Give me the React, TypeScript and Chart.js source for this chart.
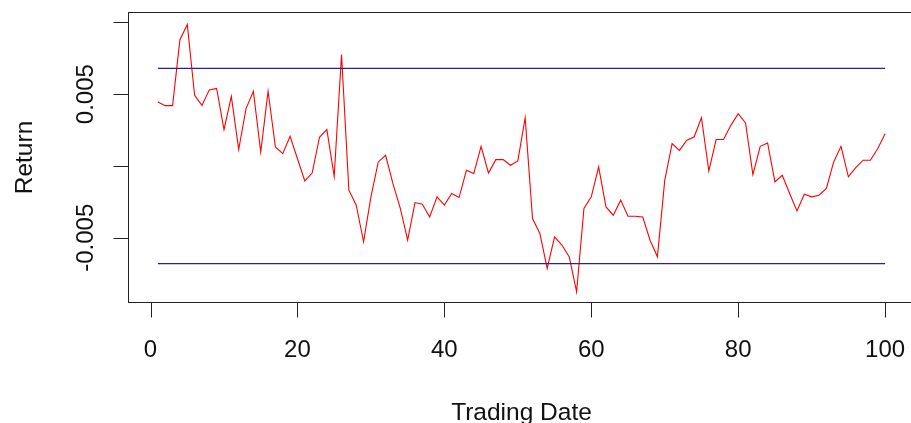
import React, { useEffect, useRef } from "react";
import { Chart, registerables } from "chart.js";

Chart.register(...registerables);

// Trading dates 1..100
const tradingDates: number[] = Array.from({ length: 100 }, (_, i) => i + 1);

// Daily returns
const returns: number[] = [
  0.00445, 0.0042, 0.0042, 0.00879, 0.00985, 0.00492, 0.00422, 0.0053, 0.0054, 0.00253,
  0.00485, 0.00114, 0.004, 0.0052, 0.00097, 0.0052, 0.00132, 0.00086, 0.00207, 0.0005,
  -0.00104, -0.00049, 0.002, 0.00255, -0.00072, 0.00777, -0.00169, -0.00273, -0.00528, -0.00215,
  0.00028, 0.00074, -0.00123, -0.00296, -0.00517, -0.00255, -0.00266, -0.00355, -0.00215, -0.00273,
  -0.00192, -0.0022, -0.0003, -0.00053, 0.00137, -0.00049, 0.00044, 0.00044, 0.00005, 0.00035,
  0.00336, -0.00366, -0.0047, -0.00714, -0.00494, -0.00551, -0.00633, -0.00876, -0.00296, -0.00215,
  -0.00007, -0.00285, -0.00343, -0.00238, -0.0035, -0.0035, -0.00355, -0.00517, -0.00633, -0.001,
  0.00156, 0.00109, 0.00179, 0.00202, 0.00336, -0.00035, 0.00184, 0.00184, 0.00283, 0.00364,
  0.003, -0.0006, 0.00137, 0.0016, -0.00111, -0.00065, -0.00192, -0.00313, -0.00197, -0.00215,
  -0.00204, -0.00157, 0.00028, 0.00137, -0.00076, -0.00011, 0.0004, 0.0004, 0.00121, 0.00225,
];

// Horizontal limit lines
const upperLimit = 0.0068;
const lowerLimit = -0.0068;

// Axis ticks and labels
const xTicks: number[] = [0, 20, 40, 60, 80, 100];
const xTickLabels: string[] = ["0", "20", "40", "60", "80", "100"];
const yTicks: number[] = [-0.005, 0, 0.005, 0.01];
const yTickLabels: string[] = ["-0.005", "", "0.005", ""];
const xTitle = "Trading Date";
const yTitle = "Return";

const FONT = '"Liberation Sans", Arial, Helvetica, sans-serif';

const rAxesPlugin = {
  id: "rAxes",
  afterDraw(chart: any) {
    const { ctx, chartArea: a } = chart;
    const xs = chart.scales.x;
    const ys = chart.scales.y;
    ctx.save();
    ctx.strokeStyle = "#222";
    ctx.lineWidth = 1;
    ctx.strokeRect(a.left, a.top, a.right - a.left, a.bottom - a.top);
    ctx.beginPath();
    xTicks.forEach((v) => {
      const px = Math.round(xs.getPixelForValue(v)) + 0.5;
      ctx.moveTo(px, a.bottom);
      ctx.lineTo(px, a.bottom + 15);
    });
    yTicks.forEach((v) => {
      const py = Math.round(ys.getPixelForValue(v)) + 0.5;
      ctx.moveTo(a.left, py);
      ctx.lineTo(a.left - 15, py);
    });
    ctx.stroke();

    ctx.fillStyle = "#111";
    ctx.font = `24px ${FONT}`;
    ctx.textAlign = "center";
    ctx.textBaseline = "alphabetic";
    xTicks.forEach((v, i) => {
      ctx.fillText(xTickLabels[i], xs.getPixelForValue(v), a.bottom + 54);
    });
    yTicks.forEach((v, i) => {
      if (!yTickLabels[i]) return;
      ctx.save();
      ctx.translate(a.left - 36, ys.getPixelForValue(v));
      ctx.rotate(-Math.PI / 2);
      ctx.fillText(yTickLabels[i], 0, 0);
      ctx.restore();
    });

    ctx.font = `24.5px ${FONT}`;
    ctx.fillText(xTitle, (a.left + a.right) / 2, a.bottom + 117);
    ctx.save();
    ctx.translate(a.left - 97, (a.top + a.bottom) / 2);
    ctx.rotate(-Math.PI / 2);
    ctx.fillText(yTitle, 0, 0);
    ctx.restore();
    ctx.restore();
  },
};

export default function App() {
  const ref = useRef<HTMLCanvasElement>(null);
  useEffect(() => {
    if (!ref.current) return;
    const first = tradingDates[0];
    const last = tradingDates[tradingDates.length - 1];
    const chart = new Chart(ref.current, {
      type: "line",
      data: {
        datasets: [
          {
            data: [
              { x: first, y: upperLimit },
              { x: last, y: upperLimit },
            ],
            borderColor: "#23239f",
            borderWidth: 1.2,
            pointRadius: 0,
            tension: 0,
          },
          {
            data: [
              { x: first, y: lowerLimit },
              { x: last, y: lowerLimit },
            ],
            borderColor: "#23239f",
            borderWidth: 1.2,
            pointRadius: 0,
            tension: 0,
          },
          {
            data: tradingDates.map((d, i) => ({ x: d, y: returns[i] })),
            borderColor: "#ff0000",
            borderWidth: 1.1,
            pointRadius: 0,
            tension: 0,
          },
        ],
      },
      options: {
        animation: false,
        responsive: false,
        devicePixelRatio: 1,
        layout: { padding: { left: 128.5, top: 12.5, right: 6.5, bottom: 120.5 } },
        plugins: { legend: { display: false }, tooltip: { enabled: false } },
        scales: {
          x: { type: "linear", min: -3, max: 104, display: false },
          y: { type: "linear", min: -0.00951, max: 0.01069, display: false },
        },
      },
      plugins: [rAxesPlugin],
    } as any);
    return () => chart.destroy();
  }, []);
  return (
    <div
      style={{
        position: "fixed",
        left: 0,
        top: 0,
        width: 911,
        height: 423,
        overflow: "hidden",
        background: "#fff",
      }}
    >
      <canvas ref={ref} width={921} height={423} style={{ display: "block", width: 921, height: 423 }} />
    </div>
  );
}
